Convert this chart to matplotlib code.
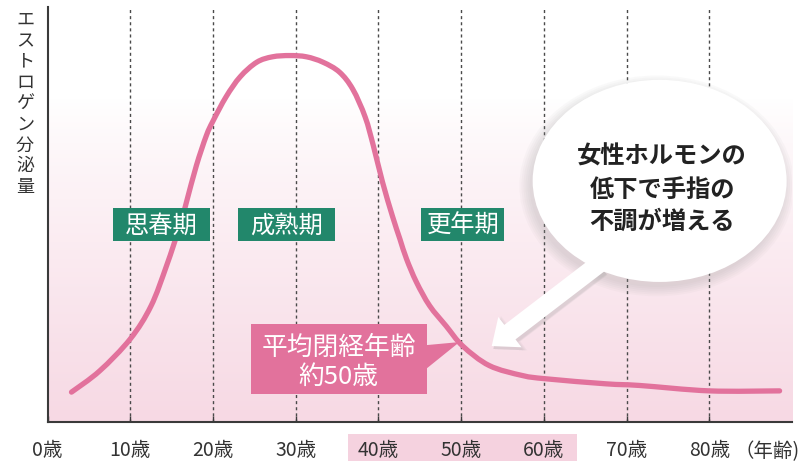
import numpy as np
import matplotlib.pyplot as plt
from matplotlib.patches import Rectangle, Ellipse, Polygon, PathPatch
from matplotlib.path import Path
from matplotlib.colors import LinearSegmentedColormap

plt.rcParams['font.family'] = ['Noto Sans CJK JP', 'DejaVu Sans']

# estrogen level (age in years, relative level 0-100)
ages = [2.9, 6.3, 10.0, 12.5, 14.4, 16.0, 16.8, 18.0, 19.2, 20.0, 21.6, 23.3,
        25.3, 27.2, 29.3, 31.3, 33.3, 35.3, 36.9, 38.4, 39.4, 40.5, 41.7,
        42.6, 43.4, 44.6, 46.2, 48.2, 50.2, 53.4, 57.4, 60.3, 67.5, 71.6,
        80.0, 88.5]
level = [7.2, 12.3, 20.0, 27.9, 37.7, 47.3, 53.0, 61.8, 69.0, 72.5, 78.4, 83.2,
         86.7, 88.0, 88.3, 88.0, 86.7, 84.3, 80.2, 73.5, 66.5, 57.8, 49.6,
         44.1, 39.3, 33.7, 28.0, 23.1, 18.3, 13.6, 11.2, 10.4, 9.2, 8.8,
         7.5, 7.5]

tick_ages = [0, 10, 20, 30, 40, 50, 60, 70, 80]
tick_labels = ['0歳', '10歳', '20歳', '30歳', '40歳', '50歳', '60歳', '70歳', '80歳']
ylabel = 'エストロゲン分泌量'

# stage labels: text, centre age, centre level, box width (years), box height
stages = [('思春期', 13.8, 47.6, 11.7, 8.0),
          ('成熟期', 28.9, 47.6, 11.7, 8.0),
          ('更年期', 50.2, 47.6, 10.0, 8.0)]
menopause_age = 50
bubble_lines = ['女性ホルモンの', '低下で手指の', '不調が増える']

PINK = '#e2729c'
GREEN = '#22876b'


def smooth_path(xs, ys):
    # Catmull-Rom through the read points, drawn as cubic beziers
    pts = np.column_stack([xs, ys])
    verts = [pts[0]]
    codes = [Path.MOVETO]
    n = len(pts)
    for i in range(n - 1):
        p0 = pts[max(i - 1, 0)]
        p1 = pts[i]
        p2 = pts[i + 1]
        p3 = pts[min(i + 2, n - 1)]
        verts += [p1 + (p2 - p0) / 6, p2 - (p3 - p1) / 6, p2]
        codes += [Path.CURVE4] * 3
    return Path(verts, codes)


fig = plt.figure(figsize=(8.02, 4.64), dpi=100)
ax = fig.add_axes([47.5 / 802, 41 / 464, 744.5 / 802, 415 / 464])
ax.set_xlim(0, 90)
ax.set_ylim(0, 100)

# pink wash toward the bottom of the plot area
t = np.linspace(0, 1, 256)[:, None]
ramp = np.clip((t - 0.22) / 0.78, 0, 1) ** 0.85
cmap = LinearSegmentedColormap.from_list('wash', ['#ffffff', '#f7d9e4'])
ax.imshow(ramp, extent=(0, 90, 0, 100), aspect='auto', cmap=cmap,
          vmin=0, vmax=1, origin='upper', zorder=0, interpolation='bilinear')

for a in tick_ages[1:]:
    ax.axvline(a, color='#4a4a4a', lw=1, ls=(0, (2.2, 2.2)), zorder=1)

ax.add_patch(PathPatch(smooth_path(ages, level), fill=False, ec=PINK, lw=3.8,
                       capstyle='round', joinstyle='round', zorder=3))

# stage boxes
for txt, cx, cy, w, h in stages:
    ax.add_patch(Rectangle((cx - w / 2, cy - h / 2), w, h, fc=GREEN, ec='none', zorder=4))
    ax.text(cx, cy, txt, color='white', fontsize=17.5, ha='center', va='center',
            zorder=5)

# menopause label with pointer
bx, by, bw, bh = 35.2, 15.2, 21.3, 16.9
ax.add_patch(Rectangle((bx - bw / 2, by - bh / 2), bw, bh, fc=PINK, ec='none', zorder=4))
tip_x = menopause_age - 0.2
tip_y = np.interp(tip_x, ages, level)
ax.add_patch(Polygon([(bx + bw / 2 - 0.2, by + 3.3), (tip_x, tip_y),
                      (bx + bw / 2 - 0.2, by - 2.6)], closed=True,
                     fc=PINK, ec='none', zorder=4))
ax.text(bx, by + 3.0, '平均閉経年齢', color='white', fontsize=18.5,
        ha='center', va='center', zorder=5)
ax.text(bx, by - 4.2, '約50歳', color='white', fontsize=18.5,
        ha='center', va='center', zorder=5)

# speech bubble with soft shadow
ex, ey, ew, eh = 74.0, 58.1, 30.7, 48.7
for k in range(6):
    ax.add_patch(Ellipse((ex - 0.35, ey - 1.2), ew + 0.5 * k, eh + 0.9 * k,
                         fc='#9a9a9a', ec='none', alpha=0.05, zorder=5))
for k in range(4):
    ax.annotate('', xy=(53.9, 17.6), xytext=(66.9, 37.4),
                arrowprops=dict(arrowstyle='simple,head_length=0.75,head_width=1.25,tail_width=0.6',
                                fc='#9a9a9a', ec='none', alpha=0.08,
                                mutation_scale=22 + k, shrinkA=0, shrinkB=0),
                zorder=5)
ax.annotate('', xy=(53.7, 18.3), xytext=(67.0, 38.6),
            arrowprops=dict(arrowstyle='simple,head_length=0.75,head_width=1.25,tail_width=0.6',
                            fc='white', ec='none', mutation_scale=22,
                            shrinkA=0, shrinkB=0),
            zorder=6)
ax.add_patch(Ellipse((ex, ey), ew, eh, fc='white', ec='none', zorder=6))
for i, line in enumerate(bubble_lines):
    ax.text(74.3, 64.1 - 7.85 * i, line, color='#222222', fontsize=17.5,
            fontweight='bold', ha='center', va='center', zorder=7)

# axes styling
for s in ['top', 'right']:
    ax.spines[s].set_visible(False)
for s in ['left', 'bottom']:
    ax.spines[s].set_color('#3a3a3a')
    ax.spines[s].set_linewidth(1.5)
    ax.spines[s].set_zorder(8)
ax.set_yticks([])
ax.set_xticks(tick_ages)
ax.set_xticklabels(tick_labels)
ax.tick_params(axis='x', direction='in', length=4, width=1, color='#3a3a3a',
               labelsize=14, labelcolor='#333333', pad=12)

# highlight behind 40-60 labels
ax.add_patch(Rectangle((36.3, -0.094), 27.7, 0.066, transform=ax.get_xaxis_transform(),
                       fc='#f5d2df', ec='none', clip_on=False, zorder=0))
ax.text(83.0, -0.07, '（年齢)', transform=ax.get_xaxis_transform(), fontsize=14,
        color='#333333', ha='left', va='center')

for i, ch in enumerate(ylabel):
    fig.text(25 / 802, 1 - (20 + 20.9 * i) / 464, ch, fontsize=13,
             color='#333333', ha='center', va='center')

fig.savefig('out.png', dpi=100)
